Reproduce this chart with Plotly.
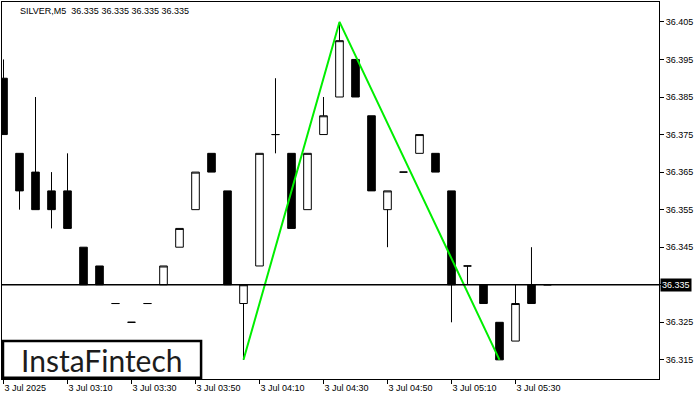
import plotly.graph_objects as go

# ---- data (5-minute bars, index 0 = 3 Jul 02:50) ----
bar_index = list(range(35))
opens  = [36.390, 36.370, 36.365, 36.360, 36.360, 36.345, 36.340, 36.330, 36.325, 36.330,
          36.335, 36.345, 36.355, 36.370, 36.360, 36.330, 36.340, 36.375, 36.370, 36.355,
          36.375, 36.385, 36.395, 36.380, 36.355, 36.365, 36.370, 36.370, 36.360, 36.340,
          36.335, 36.325, 36.320, 36.335, 36.335]
highs  = [36.395, 36.370, 36.385, 36.365, 36.370, 36.345, 36.340, 36.330, 36.325, 36.330,
          36.340, 36.350, 36.365, 36.370, 36.360, 36.335, 36.370, 36.390, 36.370, 36.370,
          36.385, 36.405, 36.395, 36.380, 36.360, 36.365, 36.375, 36.370, 36.360, 36.340,
          36.335, 36.325, 36.335, 36.345, 36.335]
lows   = [36.375, 36.355, 36.355, 36.350, 36.350, 36.335, 36.335, 36.330, 36.325, 36.330,
          36.335, 36.345, 36.355, 36.365, 36.335, 36.315, 36.340, 36.370, 36.350, 36.355,
          36.375, 36.385, 36.385, 36.360, 36.345, 36.365, 36.370, 36.365, 36.325, 36.335,
          36.330, 36.315, 36.320, 36.330, 36.335]
closes = [36.375, 36.360, 36.355, 36.355, 36.350, 36.335, 36.335, 36.330, 36.325, 36.330,
          36.340, 36.350, 36.365, 36.365, 36.335, 36.335, 36.370, 36.375, 36.350, 36.370,
          36.380, 36.400, 36.385, 36.360, 36.360, 36.365, 36.375, 36.365, 36.335, 36.340,
          36.330, 36.315, 36.330, 36.330, 36.335]

# pattern line (double top style) : bar index / price
pattern_x = [15, 21, 31]
pattern_y = [36.315, 36.405, 36.315]

last_price = 36.335
title_text = "SILVER,M5\u00a0\u00a036.335 36.335 36.335 36.335"

y_ticks = [36.315, 36.325, 36.335, 36.345, 36.355, 36.365, 36.375, 36.385, 36.395, 36.405]
y_tick_text = ["36.315", "36.325", "", "36.345", "36.355", "36.365", "36.375", "36.385", "36.395", "36.405"]
x_tick_idx = [0, 4, 8, 12, 16, 20, 24, 28, 32]
x_tick_text = ["3 Jul 2025", "3 Jul 03:10", "3 Jul 03:30", "3 Jul 03:50", "3 Jul 04:10",
               "3 Jul 04:30", "3 Jul 04:50", "3 Jul 05:10", "3 Jul 05:30"]

FONT = "Liberation Sans, Arial, sans-serif"

fig = go.Figure()
fig.add_trace(go.Candlestick(
    x=bar_index, open=opens, high=highs, low=lows, close=closes,
    increasing=dict(fillcolor="white", line=dict(color="black", width=1)),
    decreasing=dict(fillcolor="black", line=dict(color="black", width=1)),
    whiskerwidth=0, showlegend=False, hoverinfo="skip",
))
fig.add_trace(go.Scatter(
    x=pattern_x, y=pattern_y, mode="lines",
    line=dict(color="#00ee00", width=2), showlegend=False, hoverinfo="skip",
))

fig.add_shape(type="line", xref="paper", x0=0, x1=1, yref="y", y0=last_price, y1=last_price,
              line=dict(color="black", width=1.5))

# logo box
fig.add_shape(type="rect", xref="paper", yref="paper",
              x0=0.0015, x1=0.303, y0=0.003, y1=0.1008,
              line=dict(color="black", width=2.5), fillcolor="white", layer="above")
fig.add_annotation(xref="paper", yref="paper", x=0.152, y=0.05, text="InstaFintech",
                   showarrow=False, font=dict(family="Lato, Inter, sans-serif", size=30, color="#1c1c1c"),
                   xanchor="center", yanchor="middle")

fig.add_annotation(xref="paper", yref="paper", x=0.0245, y=0.976, text=title_text,
                   showarrow=False, xanchor="left", yanchor="middle",
                   font=dict(family=FONT, size=9, color="black"))

fig.add_annotation(xref="paper", yref="y", x=1, y=last_price, text=str(last_price),
                   showarrow=False, xanchor="left", yanchor="middle", xshift=1,
                   bgcolor="black", borderpad=1,
                   font=dict(family=FONT, size=9, color="white"))

fig.update_layout(
    width=700, height=400,
    margin=dict(l=2, r=41, t=2, b=21),
    paper_bgcolor="white", plot_bgcolor="white",
    boxgap=0.32,
    font=dict(family=FONT, size=9, color="black"),
    xaxis=dict(range=[-0.094, 40.97], rangeslider=dict(visible=False),
               showgrid=False, zeroline=False,
               showline=True, mirror=True, linecolor="black", linewidth=1,
               tickmode="array", tickvals=x_tick_idx, ticktext=x_tick_text,
               ticks="outside", ticklen=4, tickcolor="black",
               ticklabelposition="outside right",
               tickfont=dict(family=FONT, size=9, color="black")),
    yaxis=dict(range=[36.3099, 36.4103], side="right",
               showgrid=False, zeroline=False,
               showline=True, mirror=True, linecolor="black", linewidth=1,
               tickmode="array", tickvals=y_ticks, ticktext=y_tick_text,
               ticks="outside", ticklen=4, tickcolor="black",
               tickfont=dict(family=FONT, size=9, color="black")),
)

fig.write_html("out.html", config={"displayModeBar": False},
               post_script="document.body.style.margin='0';")
